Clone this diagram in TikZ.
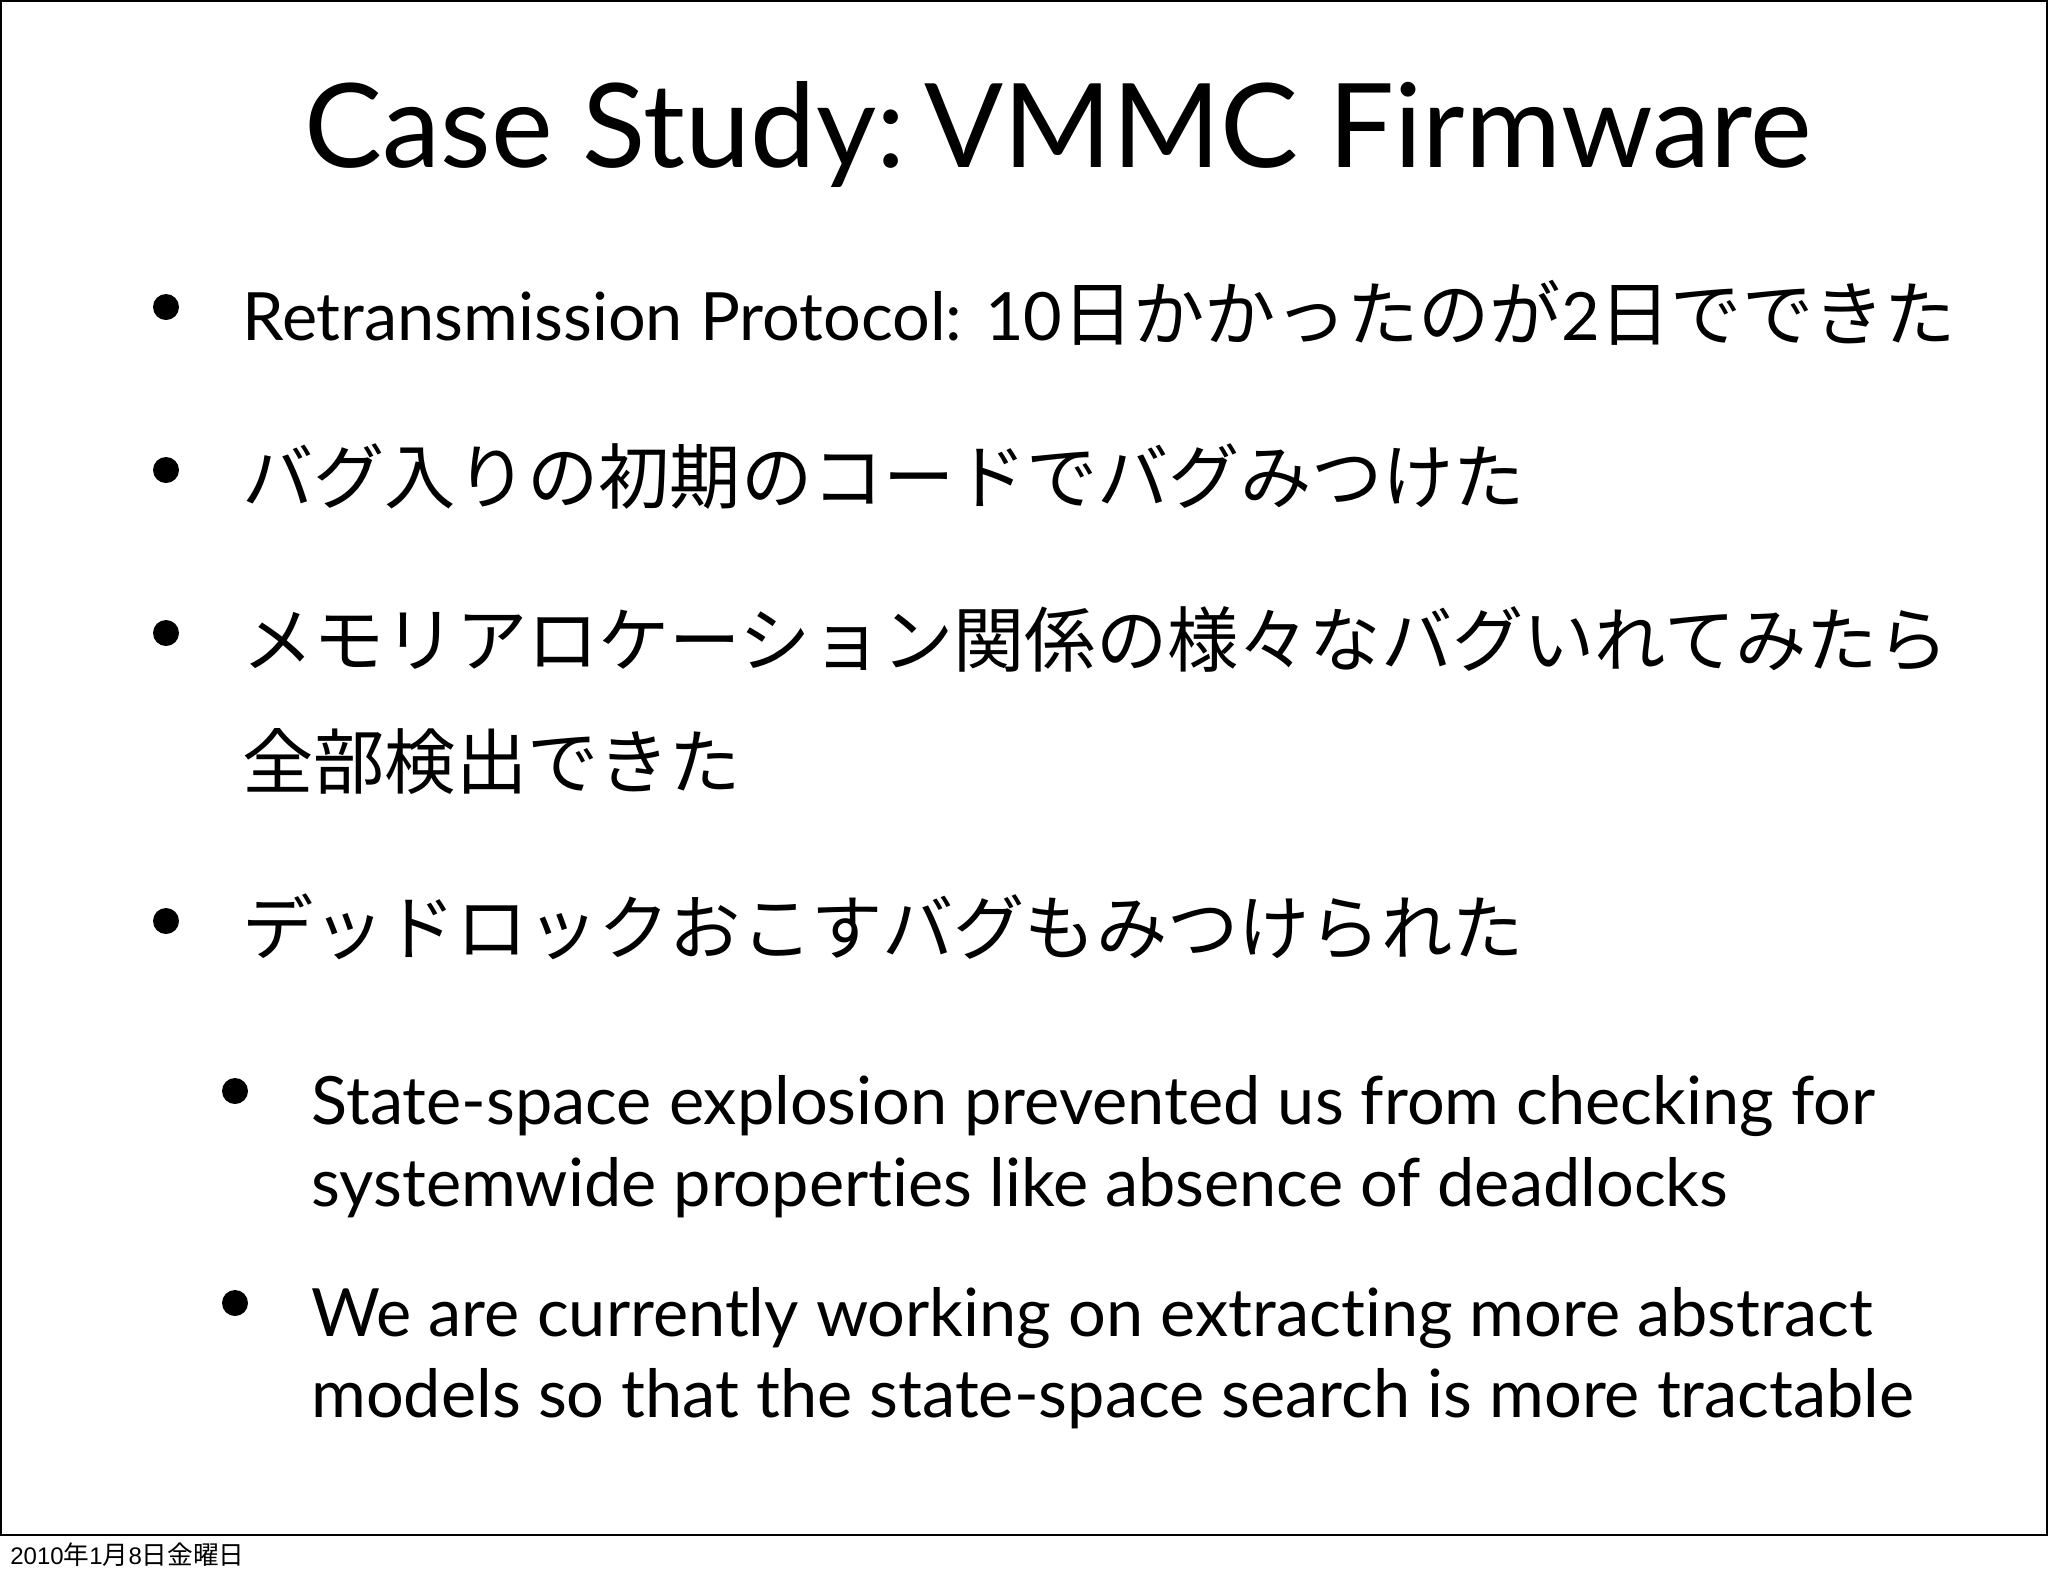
\documentclass[tikz,border=0pt]{standalone}
\usepackage{fontspec}
\setmainfont[Ligatures={NoCommon}]{Lato}
\newfontfamily\jp[Scale=1.07]{Noto Sans CJK JP}
\newfontfamily\datef{Liberation Sans}
\begin{document}
\begin{tikzpicture}[x=0.5pt,y=-0.5pt,
  txt/.style={anchor=base west,inner sep=0pt,font=\fontsize{33.3}{38}\selectfont},
  dot/.style={circle,fill=black,inner sep=0pt,minimum size=13pt}]
\useasboundingbox (0,0) rectangle (2048,1576);
\draw[line width=1pt] (1,1) rectangle (2047,1535);
\node[anchor=base,inner sep=0pt,font=\fontsize{58.4}{68}\selectfont] (title) at (1058,167) {Case Study:\,VMMC Firmware};
\node[dot] (d1) at (166,307) {};
\node[txt] (t1) at (242,340) {Retransmission Protocol: 10{\jp 日かかったのが}2{\jp 日でできた}};
\node[dot] (d2) at (166,470) {};
\node[txt] (t2) at (242,503) {\jp バグ入りの初期のコードでバグみつけた};
\node[dot] (d3) at (166,633) {};
\node[txt] (t3) at (242,666) {\jp メモリアロケーション関係の様々なバグいれてみたら};
\node[txt] (t3b) at (242,788) {\jp 全部検出できた};
\node[dot] (d4) at (166,921) {};
\node[txt] (t4) at (242,954) {\jp デッドロックおこすバグもみつけられた};
\node[dot] (d5) at (235,1091) {};
\node[txt] (t5) at (311,1124) {State-space explosion prevented us from checking for};
\node[txt] (t5b) at (311,1206) {systemwide properties like absence of deadlocks};
\node[dot] (d6) at (235,1303) {};
\node[txt] (t6) at (311,1336) {We are currently working on extracting more abstract};
\node[txt] (t6b) at (311,1417) {models so that the state-space search is more tractable};
\node[anchor=base west,inner sep=0pt,font=\datef\fontsize{12}{14}\selectfont] (date) at (10,1564) {2010{\jp 年}1{\jp 月}8{\jp 日金曜日}};
\end{tikzpicture}
\end{document}
